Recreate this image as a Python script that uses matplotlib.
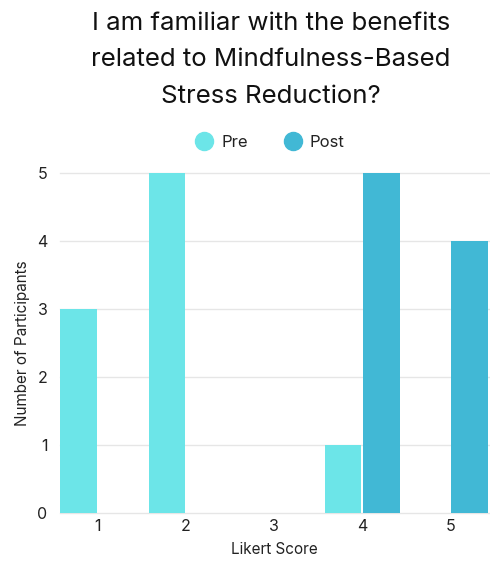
import matplotlib.pyplot as plt
from matplotlib.lines import Line2D
import numpy as np

plt.rcParams['font.family'] = ['Inter', 'DejaVu Sans']

# Likert responses, before and after the course
scores = [1, 2, 3, 4, 5]
pre_counts = [3, 5, 0, 1, 0]
post_counts = [0, 0, 0, 5, 4]
series_names = ['Pre', 'Post']

pre_color = '#6ce5e8'
post_color = '#41b8d5'
text_color = '#222222'

fig = plt.figure(figsize=(4.9, 5.63), dpi=100)
ax = fig.add_axes([60 / 490, 1 - 513 / 563, 429 / 490, 340 / 563])

x = np.array(scores, dtype=float)
w = 0.415
ax.bar(x - w / 2 - 0.01, pre_counts, width=w, color=pre_color, zorder=3)
ax.bar(x + w / 2 + 0.01, post_counts, width=w, color=post_color, zorder=3)

ax.set_xlim(0.57, 5.44)
ax.set_ylim(0, 5)
ax.set_xticks(x)
ax.set_xticklabels([str(s) for s in scores])
ax.set_yticks(range(0, 6))
ax.grid(axis='y', color='#e6e6e6', linewidth=1, zorder=0)
for line in ax.get_ygridlines():
    line.set_clip_on(False)
for side in ['top', 'right', 'left', 'bottom']:
    ax.spines[side].set_visible(False)
ax.tick_params(length=0, labelsize=11.5, colors=text_color)
ax.tick_params(axis='x', pad=4)
ax.tick_params(axis='y', pad=9)

ax.set_xlabel('Likert Score', fontsize=11, color=text_color, labelpad=6)
ax.set_ylabel('Number of Participants', fontsize=11, color=text_color, labelpad=5)

fig.text(0.553, 0.979,
         'I am familiar with the benefits\nrelated to Mindfulness-Based\nStress Reduction?',
         ha='center', va='top', fontsize=18.6, color='#111111', linespacing=1.75)

# round markers for the legend
handles = [Line2D([], [], marker='o', linestyle='none', markersize=13, color=c)
           for c in (pre_color, post_color)]
ax.legend(handles, series_names, loc='lower center', bbox_to_anchor=(0.49, 1.025),
          ncol=2, frameon=False, fontsize=12, handlelength=1, columnspacing=2.2,
          handletextpad=0.5, labelcolor=text_color)

fig.savefig('out.png', dpi=100)
